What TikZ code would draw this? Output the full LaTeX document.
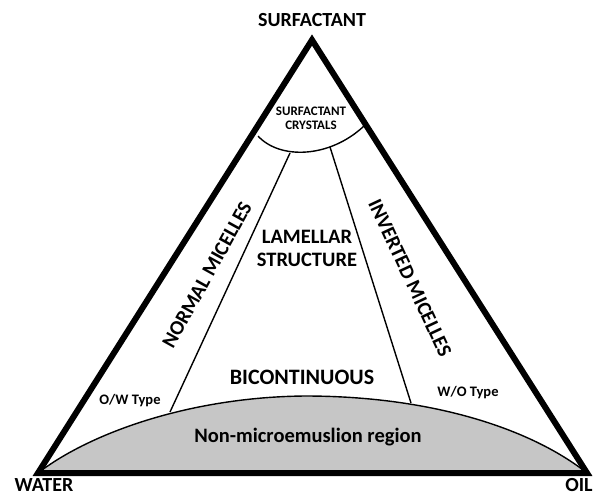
\documentclass[tikz,border=0pt]{standalone}
\usepackage{fontspec}
\setmainfont{Carlito}
\usepackage{tikz}

\begin{document}
\begin{tikzpicture}[x=1pt, y=-1pt, line width=1.4pt,
    corner/.style={font=\bfseries\fontsize{20}{22}\selectfont, inner sep=0.5pt},
    region/.style={font=\bfseries\fontsize{20.5}{23}\selectfont, align=center},
    small/.style={font=\bfseries\fontsize{13}{14}\selectfont, align=center},
    typelabel/.style={font=\bfseries\fontsize{14.5}{16}\selectfont}]
            \useasboundingbox (0, 0) rectangle (598, 496);
            \coordinate (w) at (38, 473);
            \coordinate (o) at (587, 473);
            \coordinate (s) at (312, 40);
            \coordinate (top) at (305, 396);
            % non-microemulsion dome
            \fill[gray!45] (w) .. controls (90, 433) and (190, 397) .. (top)
                .. controls (430, 396) and (530, 428) .. (o) -- cycle;
            \draw (w) .. controls (90, 433) and (190, 397) .. (top)
                .. controls (430, 396) and (530, 428) .. (o);
            % crystal cap and phase boundaries
            \coordinate (cl) at (258, 136);
            \coordinate (cr) at (364, 126);
            \draw (cl) .. controls (280, 160) and (330, 158) .. (cr);
            \coordinate (al) at (290, 153);
            \coordinate (bl) at (170, 412);
            \coordinate (ar) at (330, 147);
            \coordinate (br) at (411, 403);
            \draw (al) -- (bl);
            \draw (ar) -- (br);
            \draw[line width=6pt, miter limit=20] (w) -- (s) -- (o) -- cycle;
            % labels
            \node[corner] (surf) at (312, 20) {SURFACTANT};
            \node[corner] (water) at (44, 485) {WATER};
            \node[corner] (oil) at (579, 485) {OIL};
            \node[small] (cryst) at (311, 118) {SURFACTANT\\CRYSTALS};
            \node[region, rotate=61] (normal) at (207, 275) {NORMAL MICELLES};
            \node[region, rotate=-65] (inverted) at (410, 278) {INVERTED MICELLES};
            \node[region] (lam) at (307, 248) {LAMELLAR\\STRUCTURE};
            \node[region, font=\bfseries\fontsize{22}{24}\selectfont] (bic) at (302, 377) {BICONTINUOUS};
            \node[typelabel] (ow) at (130, 401) {O/W Type};
            \node[typelabel] (wo) at (468, 393) {W/O Type};
            \node[region] (non) at (308, 437) {Non-microemuslion region};
    \end{tikzpicture}
\end{document}
